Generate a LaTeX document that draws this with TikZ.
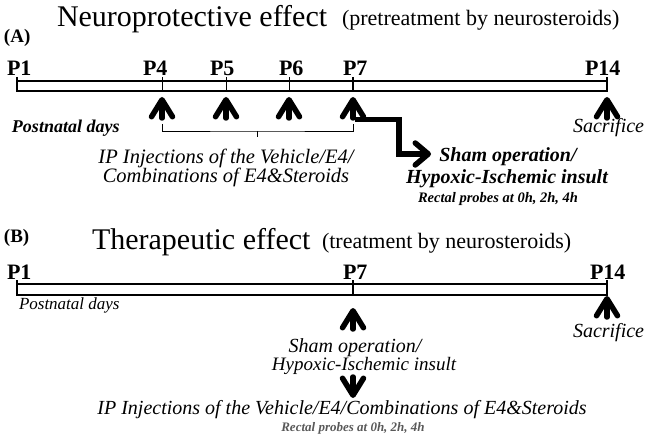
\documentclass[tikz,border=0pt]{standalone}
\usepackage{fontspec}
\setmainfont{Liberation Serif}
\usetikzlibrary{arrows.meta}
\begin{document}
\begin{tikzpicture}[x=1pt,y=-1pt,
  txt/.style={inner sep=0pt, outer sep=0pt},
  barline/.style={line width=1.8pt},
  thintick/.style={line width=0.8pt},
  thicktick/.style={line width=1.8pt},
  bracketline/.style={line width=0.9pt},
  chev/.style={line width=5.5pt, line cap=round, -{Straight Barb[length=17pt,width=21pt,line cap=round,line join=round]}},
  elbow/.style={line width=5.5pt, line join=miter, -{Straight Barb[length=13pt,width=22pt,line cap=round,line join=round]}},
  titlebig/.style={txt, anchor=base west, font=\fontsize{30}{32}\selectfont},
  titlesmall/.style={txt, anchor=base west, font=\fontsize{22}{24}\selectfont},
  panel/.style={txt, anchor=base west, font=\fontsize{19}{21}\selectfont\bfseries},
  plabel/.style={txt, anchor=base west, font=\fontsize{22}{24}\selectfont\bfseries},
  itx/.style={txt, anchor=base, font=\fontsize{20.5}{22}\selectfont\itshape},
  bitx/.style={txt, anchor=base, font=\fontsize{20}{22}\selectfont\bfseries\itshape},
]
\useasboundingbox (0,0) rectangle (650,438);

% ================= Panel A =================
\node[titlebig] (tA) at (57,27) {Neuroprotective effect};
\node[titlesmall] (tAs) at (342,26) {(pretreatment by neurosteroids)};
\node[panel] (pA) at (4,43) {(A)};

\node[plabel] (a1l) at (7,76) {P1};
\node[plabel] (a4l) at (143,76) {P4};
\node[plabel] (a5l) at (210,76) {P5};
\node[plabel] (a6l) at (279,76) {P6};
\node[plabel] (a7l) at (343,76) {P7};
\node[plabel] (a14l) at (585,76) {P14};

\draw[barline] (17,81) rectangle (607,91);
\draw[barline] (17,77) -- (17,81);
\foreach \x/\n in {162/4,226/5,289/6}{
  \coordinate (a\n t) at (\x,77);
  \coordinate (a\n b) at (\x,91);
  \draw[thintick] (a\n t) -- (a\n b);
}
\coordinate (a7t) at (353,77); \coordinate (a7b) at (353,91);
\draw[thicktick] (a7t) -- (a7b);
\coordinate (a14t) at (607,77); \coordinate (a14b) at (607,91);
\draw[thicktick] (a14t) -- (a14b);

% up arrows
\foreach \x/\n in {162/4,226/5,289/6,353/7,607/14}{
  \coordinate (ua\n s) at (\x,118);
  \coordinate (ua\n e) at (\x,97);
  \draw[chev] (ua\n s) -- (ua\n e);
}

% bracket
\coordinate (brL) at (162,124);
\coordinate (brR) at (353,124);
\coordinate (brM) at (257,131);
\coordinate (brT) at (257,137);
\draw[bracketline] (brL) |- (brM) -| (brR);
\draw[bracketline] (brM) -- (brT);

\node[txt, anchor=base west, font=\fontsize{18}{20}\selectfont\bfseries\itshape] (pdA) at (12,133) {Postnatal days};
\node[txt, anchor=base west, font=\fontsize{20}{22}\selectfont\itshape] (sacA) at (573,133) {Sacrifice};

\node[itx] (ipA1) at (226,164) {IP Injections of the Vehicle/E4/};
\node[itx] (ipA2) at (226,183) {Combinations of E4\&Steroids};

\node[bitx] (shA) at (508,162) {Sham operation/};
\node[bitx] (hiA) at (507,184) {Hypoxic-Ischemic insult};
\node[txt, anchor=base, font=\fontsize{14.5}{16}\selectfont\bfseries\itshape] (rpA) at (498,203) {Rectal probes at 0h, 2h, 4h};

\coordinate (elS) at (355,119.5);
\coordinate (elC1) at (399,119.5);
\coordinate (elC2) at (399,154);
\coordinate (elE) at (431,154);
\draw[elbow] (elS) -- (elC1) -- (elC2) -- (elE);

% ================= Panel B =================
\node[panel] (pB) at (4,243) {(B)};
\node[titlebig] (tB) at (92,250) {Therapeutic effect};
\node[titlesmall] (tBs) at (322,248) {(treatment by neurosteroids)};

\node[plabel] (b1l) at (7,279) {P1};
\node[plabel] (b7l) at (343,279) {P7};
\node[plabel] (b14l) at (590,279) {P14};

\draw[barline] (17,284) rectangle (607,295);
\draw[barline] (17,280) -- (17,284);
\coordinate (b7t) at (353,280); \coordinate (b7b) at (353,295);
\draw[thicktick] (b7t) -- (b7b);
\coordinate (b14t) at (607,280); \coordinate (b14b) at (607,295);
\draw[thicktick] (b14t) -- (b14b);

\node[txt, anchor=base west, font=\fontsize{17}{19}\selectfont\itshape] (pdB) at (19,309) {Postnatal days};

\coordinate (ub7s) at (353,329);
\coordinate (ub7e) at (353,308);
\draw[chev] (ub7s) -- (ub7e);
\coordinate (ub14s) at (607,317);
\coordinate (ub14e) at (607,296);
\draw[chev] (ub14s) -- (ub14e);

\node[txt, anchor=base west, font=\fontsize{20}{22}\selectfont\itshape] (sacB) at (573,337) {Sacrifice};

\node[itx, font=\fontsize{20}{22}\selectfont\itshape] (shB) at (355,352) {Sham operation/};
\node[itx, font=\fontsize{19}{21}\selectfont\itshape] (hiB) at (364,370) {Hypoxic-Ischemic insult};

\coordinate (db7s) at (353,377);
\coordinate (db7e) at (353,398);
\draw[chev] (db7s) -- (db7e);

\node[itx, font=\fontsize{20}{22}\selectfont\itshape] (ipB) at (342,414) {IP Injections of the Vehicle/E4/Combinations of E4\&Steroids};
\node[txt, anchor=base, text=black!65, font=\fontsize{13}{15}\selectfont\bfseries\itshape] (rpB) at (353,431) {Rectal probes at 0h, 2h, 4h};

\end{tikzpicture}
\end{document}
